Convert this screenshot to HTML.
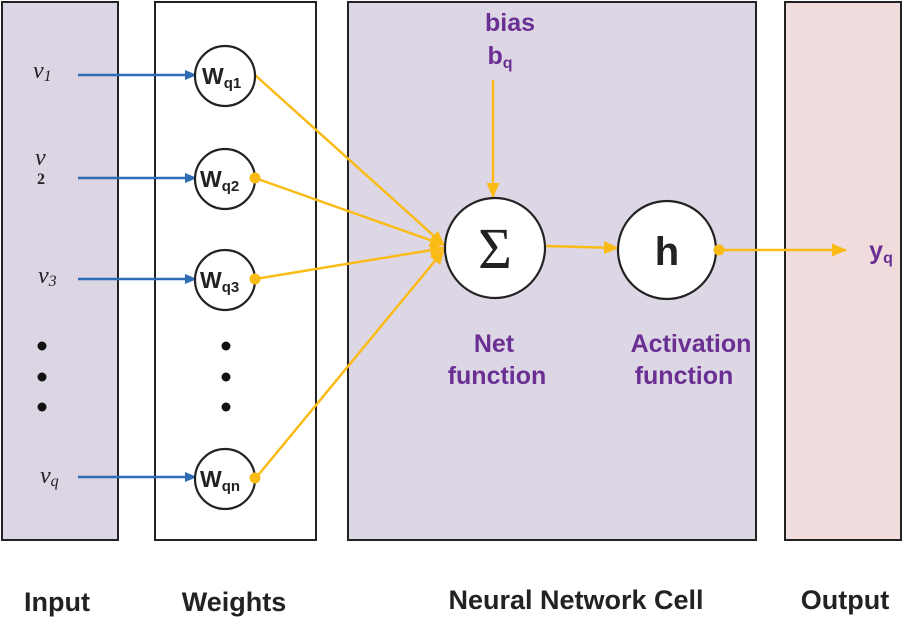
<!DOCTYPE html>
<html><head><meta charset="utf-8"><style>body{margin:0;background:#fff}</style></head><body>
<svg width="903" height="619" viewBox="0 0 903 619" xmlns="http://www.w3.org/2000/svg" font-family="Liberation Sans, sans-serif">
<defs>
<marker id="b" markerWidth="12" markerHeight="10" refX="11" refY="5" orient="auto" markerUnits="userSpaceOnUse"><path d="M0,0L12,5L0,10z" fill="#2e6db5"/></marker>
<marker id="y" markerWidth="15" markerHeight="13" refX="14" refY="6.5" orient="auto" markerUnits="userSpaceOnUse"><path d="M0,0L15,6.5L0,13z" fill="#fbbb16"/></marker>
</defs>
<rect x="2" y="2" width="116" height="538" fill="#dcd5e4" stroke="#222" stroke-width="2"/>
<rect x="155" y="2" width="161" height="538" fill="#fff" stroke="#222" stroke-width="2"/>
<rect x="348" y="2" width="408" height="538" fill="#ddd6e4" stroke="#222" stroke-width="2"/>
<rect x="785" y="2" width="116" height="538" fill="#f0dcdc" stroke="#222" stroke-width="2"/>
<g font-family="Liberation Serif, serif" font-style="italic" font-size="24" fill="#222">
<text x="33" y="78">v<tspan font-size="16" dy="3">1</tspan></text>
<text x="35" y="165">v</text><text x="37" y="184" font-size="16" font-style="normal" font-weight="bold">2</text>
<text x="38" y="283">v<tspan font-size="16" dy="3">3</tspan></text>
<text x="40" y="483">v<tspan font-size="16" dy="3">q</tspan></text>
</g>
<g stroke="#2e6db5" stroke-width="2.5" marker-end="url(#b)">
<line x1="78" y1="75" x2="196" y2="75"/><line x1="78" y1="178" x2="196" y2="178"/>
<line x1="78" y1="279" x2="196" y2="279"/><line x1="78" y1="477" x2="196" y2="477"/>
</g>
<g fill="#111"><circle cx="42" cy="346" r="4.5"/><circle cx="42" cy="377" r="4.5"/><circle cx="42" cy="407" r="4.5"/>
<circle cx="226" cy="346" r="4.5"/><circle cx="226" cy="377" r="4.5"/><circle cx="226" cy="407" r="4.5"/></g>
<g stroke="#fbbb16" stroke-width="2.5" fill="none">
<line x1="255" y1="75" x2="444" y2="245" marker-end="url(#y)"/>
<line x1="255" y1="178" x2="444" y2="245" marker-end="url(#y)"/>
<line x1="255" y1="279" x2="444" y2="248" marker-end="url(#y)"/>
<line x1="255" y1="479" x2="444" y2="250" marker-end="url(#y)"/>
<line x1="493" y1="80" x2="493" y2="197" marker-end="url(#y)"/>
<line x1="545" y1="246" x2="618" y2="248" marker-end="url(#y)"/>
<line x1="718" y1="250" x2="846" y2="250" marker-end="url(#y)"/>
</g>
<g fill="#fff" stroke="#222" stroke-width="2.2">
<circle cx="225" cy="76" r="30"/><circle cx="225" cy="179" r="30"/><circle cx="225" cy="280" r="30"/><circle cx="225" cy="479" r="30"/>
<circle cx="495" cy="248" r="50"/><circle cx="667" cy="250" r="49"/>
</g>
<g fill="#fbbb16"><circle cx="255" cy="178" r="5.5"/><circle cx="255" cy="279" r="5.5"/><circle cx="255" cy="478" r="5.5"/><circle cx="719" cy="250" r="5.5"/></g>
<g font-weight="bold" fill="#222" font-size="23">
<text x="202" y="84">W<tspan font-size="15" dy="4">q1</tspan></text>
<text x="200" y="187">W<tspan font-size="15" dy="4">q2</tspan></text>
<text x="200" y="288">W<tspan font-size="15" dy="4">q3</tspan></text>
<text x="200" y="487">W<tspan font-size="15" dy="4">qn</tspan></text>
</g>
<text x="495" y="268" text-anchor="middle" font-family="Liberation Serif, serif" font-size="58" fill="#222">Σ</text>
<text x="667" y="265" text-anchor="middle" font-weight="bold" font-size="40" fill="#222">h</text>
<g fill="#6a2f93" font-weight="bold" font-size="25" text-anchor="middle">
<text x="510" y="31">bias</text>
<text x="500" y="64">b<tspan font-size="16" dy="4">q</tspan></text>
<text x="494" y="352">Net</text><text x="497" y="384">function</text>
<text x="691" y="352">Activation</text><text x="684" y="384">function</text>
<text x="881" y="259">y<tspan font-size="16" dy="4">q</tspan></text>
</g>
<g font-weight="bold" font-size="27" fill="#222" text-anchor="middle">
<text x="57" y="611">Input</text><text x="234" y="611">Weights</text>
<text x="576" y="609">Neural Network Cell</text><text x="845" y="609">Output</text>
</g>
</svg>
</body></html>
